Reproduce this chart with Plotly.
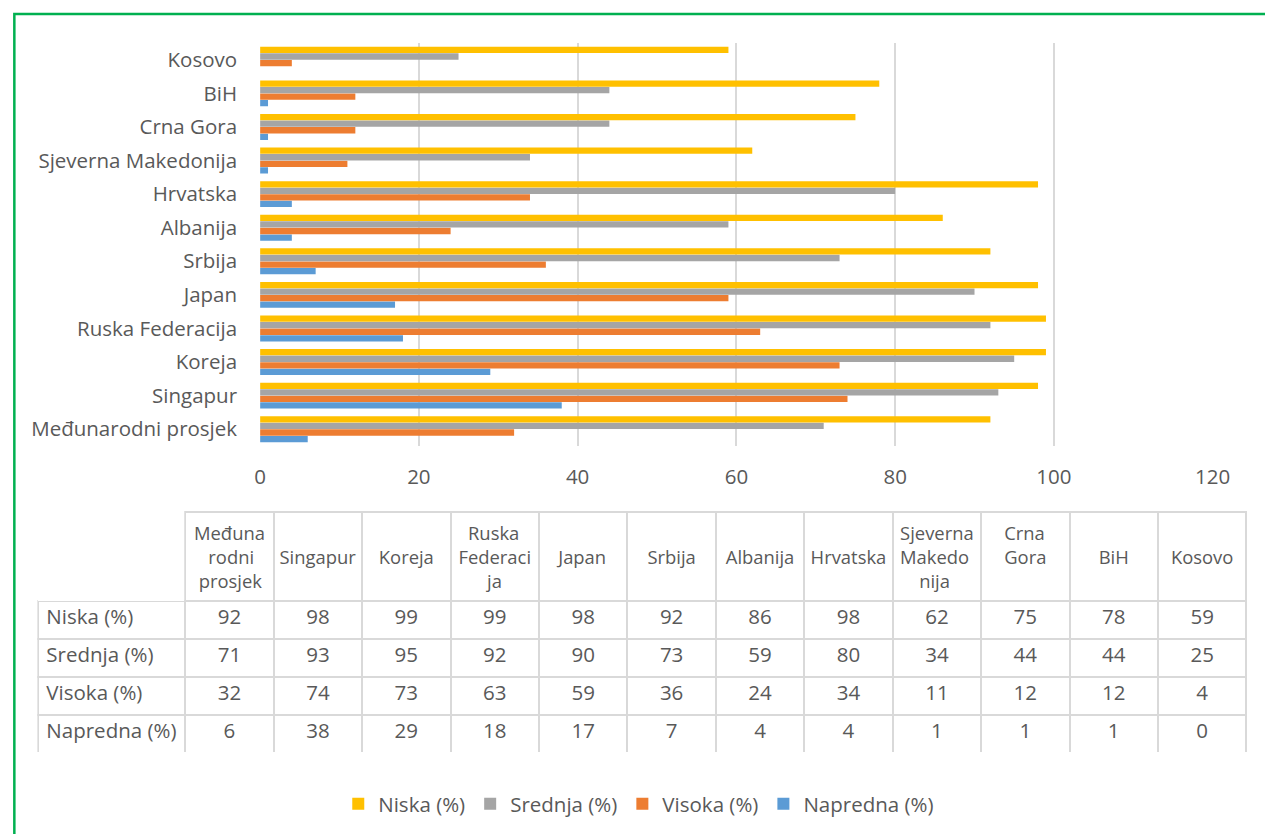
import plotly.graph_objects as go

# ---- data ----
categories = ["Međunarodni prosjek", "Singapur", "Koreja", "Ruska Federacija", "Japan",
              "Srbija", "Albanija", "Hrvatska", "Sjeverna Makedonija", "Crna Gora", "BiH", "Kosovo"]
# table header labels, wrapped as in the original (non-breaking spaces centre the shorter lines)
table_headers = ["Međuna<br>\u00a0\u00a0\u00a0rodni<br>\u00a0prosjek",
                 "\u00a0<br>Singapur", "\u00a0<br>Koreja",
                 "\u00a0\u00a0Ruska<br>Federaci<br>\u00a0\u00a0\u00a0\u00a0\u00a0\u00a0ja",
                 "\u00a0<br>Japan", "\u00a0<br>Srbija", "\u00a0<br>Albanija", "\u00a0<br>Hrvatska",
                 "Sjeverna<br>Makedo<br>\u00a0\u00a0\u00a0\u00a0nija",
                 "Crna<br>Gora", "\u00a0<br>BiH", "\u00a0<br>Kosovo"]
series_names = ["Niska (%)", "Srednja (%)", "Visoka (%)", "Napredna (%)"]
niska = [92, 98, 99, 99, 98, 92, 86, 98, 62, 75, 78, 59]
srednja = [71, 93, 95, 92, 90, 73, 59, 80, 34, 44, 44, 25]
visoka = [32, 74, 73, 63, 59, 36, 24, 34, 11, 12, 12, 4]
napredna = [6, 38, 29, 18, 17, 7, 4, 4, 1, 1, 1, 0]
colors = {"Niska (%)": "#FFC000", "Srednja (%)": "#A5A5A5",
          "Visoka (%)": "#ED7D31", "Napredna (%)": "#5B9BD5"}
x_ticks = [0, 20, 40, 60, 80, 100, 120]

W, H = 1265, 834
FONT = "Open Sans"
FS = 20.5
TXT = "#595959"
GRID = "#D9D9D9"

values = {"Niska (%)": niska, "Srednja (%)": srednja, "Visoka (%)": visoka, "Napredna (%)": napredna}

fig = go.Figure()
# add in reverse so Niska is the top bar in each group
for name in reversed(series_names):
    fig.add_trace(go.Bar(
        y=categories, x=values[name], name=name, orientation="h",
        marker=dict(color=colors[name], line=dict(width=0)),
        hoverinfo="x+name",
    ))

# data table
col_widths = [147] + [88.5] * 12
header_vals = [""] + table_headers
row_labels = [n.replace(" ", "\u00a0") for n in series_names]
cell_vals = [row_labels] + [[niska[i], srednja[i], visoka[i], napredna[i]] for i in range(len(categories))]
fig.add_trace(go.Table(
    domain=dict(x=[33 / W, 1.0], y=[(H - 753) / H, (H - 512) / H]),
    columnwidth=col_widths,
    header=dict(values=header_vals, height=88,
                align="center",
                fill=dict(color="white"),
                line=dict(color=["rgba(0,0,0,0)"] + [GRID] * 12, width=2),
                font=dict(family=FONT, size=18.4, color=TXT)),
    cells=dict(values=cell_vals, height=38,
               align=["left"] + ["center"] * 12,
               fill=dict(color="white"),
               line=dict(color=GRID, width=2),
               font=dict(family=FONT, size=FS, color=TXT)),
))

fig.update_layout(
    width=W, height=H,
    margin=dict(l=0, r=0, t=0, b=0),
    paper_bgcolor="white", plot_bgcolor="white",
    font=dict(family=FONT, size=FS, color=TXT),
    barmode="group", bargap=0.22, bargroupgap=0.04,
    xaxis=dict(domain=[259 / W, 1230 / W], range=[0, 120], tickvals=x_ticks,
               showgrid=True, gridcolor=GRID, gridwidth=1.5,
               zeroline=False, showline=False, ticks="",
               ticklabelstandoff=16,
               tickfont=dict(family=FONT, size=FS, color=TXT)),
    yaxis=dict(domain=[(H - 446) / H, (H - 43) / H], type="category",
               showgrid=False, zeroline=False, showline=False, ticks="",
               ticklabelstandoff=22,
               tickfont=dict(family=FONT, size=FS, color=TXT)),
    legend=dict(orientation="h", x=645 / W, xanchor="center", y=(H - 804) / H, yanchor="middle",
                traceorder="reversed", font=dict(family=FONT, size=FS, color=TXT),
                itemwidth=30),
    shapes=[dict(type="rect", xref="paper", yref="paper",
                 x0=8.5 / W, x1=1.05, y0=-0.05, y1=(H - 14) / H,
                 line=dict(color="#00B050", width=2.5), fillcolor="rgba(0,0,0,0)")],
)

fig.write_html("out.html", config={"displayModeBar": False},
               post_script="document.body.style.margin='0';document.body.style.overflow='hidden';")
